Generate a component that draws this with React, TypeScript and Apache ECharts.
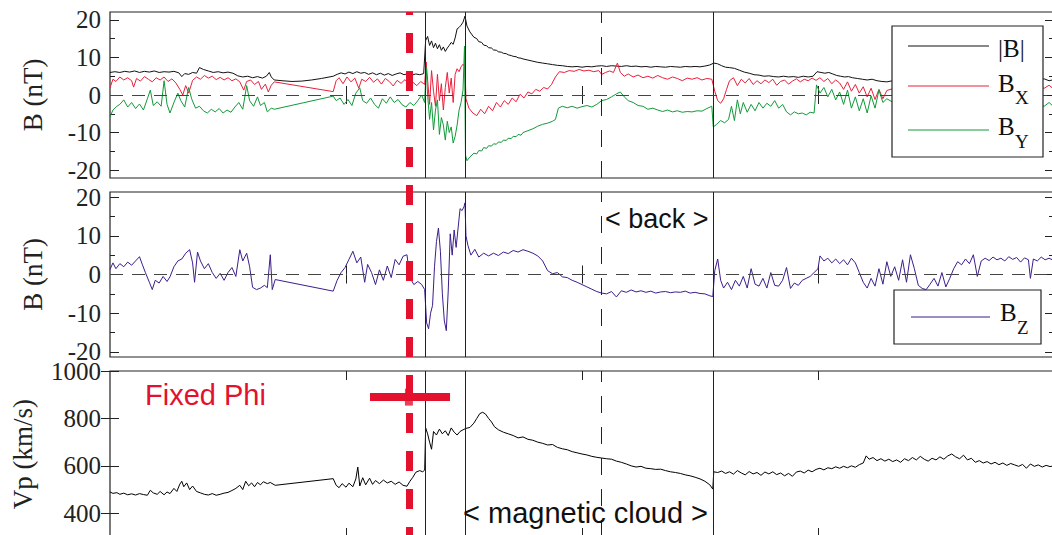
import React, { useEffect, useRef } from 'react';
import * as echarts from 'echarts';

// ---- axis ticks ----
const xTicks = [24, 48, 72];
const bTicks = [-20, -10, 0, 10, 20];
const bMinorTicks = [-15, -5, 5, 15];
const vpTicks = [400, 600, 800, 1000];

// ---- event times (hours) ----
const eventSolid = [32.07, 36.15, 61.3];
const eventDashed = [50.0];
const fixedPhiT = 30.4;
const fixedPhiRange = [26.44, 34.58];
const fixedPhiV = 890;

// ---- |B| (nT) ----
const bMag: number[][] = [
  [0,6.0],[0.5,6.2],[1,6.0],[1.5,6.3],[2,6.1],[2.5,6.4],[3,6.0],[3.5,6.3],[4,6.1],[4.5,6.4],[5,6.0],[5.5,6.2],[6,6.1],[6.5,6.3],[7,5.9],[7.3,4.9],[7.6,5.7],[8,5.5],[8.4,6.0],[8.8,5.8],[9.1,7.3],[9.5,6.8],[10,6.4],[10.5,6.0],[11,6.2],[11.5,5.9],[12,6.1],[12.5,5.8],[13,5.1],[13.5,4.8],[14,5.0],[14.5,4.6],[15,4.9],[15.5,4.5],[15.9,5.0],[16.2,6.0],[16.4,4.8],[16.7,4.0],
  [17.5,3.8],[18.5,3.6],[19.5,3.7],[20.5,4.0],[21.5,4.4],[22.7,5.0],
  [23.1,5.5],[23.5,5.9],[23.9,5.6],[24.3,6.1],[24.7,5.7],[25.1,6.2],[25.5,5.8],[25.9,6.0],[26.3,5.5],[26.7,5.9],[27.1,5.4],[27.5,5.8],[27.9,5.3],[28.3,5.7],[28.7,5.2],[29.1,5.6],[29.5,5.9],[29.9,5.4],[30.3,5.7],[30.7,5.3],[31.1,5.6],[31.5,5.4],[31.9,5.7],
  [32.1,14.5],[32.3,15.6],[32.5,13.2],[32.7,14.4],[32.9,12.6],[33.1,13.8],[33.3,12.3],[33.5,13.4],[33.7,11.9],[33.9,12.8],[34.1,11.6],[34.3,12.5],[34.5,13.2],[34.7,14.0],[34.9,13.5],[35.1,15.2],[35.3,17.6],[35.5,18.0],[35.7,18.6],[35.9,19.4],[36.1,21.0],
  [36.3,18.4],[36.6,16.8],[37.0,15.4],[37.3,15.0],[37.5,14.2],[37.8,14.0],[38.0,13.3],[38.3,13.1],[38.5,12.6],[38.8,12.5],[39.0,12.0],[39.3,11.9],[39.5,11.5],[39.8,11.4],[40.0,11.1],[40.3,11.0],[40.5,10.7],[40.8,10.5],[41.0,10.3],[41.3,10.2],[41.5,9.9],[41.8,9.8],[42.0,9.6],[42.5,9.3],[43.0,9.0],[43.5,8.7],[44.0,8.5],[44.5,8.3],[45.0,8.1],[45.5,7.9],[46.0,7.8],[46.5,7.6],[47.0,7.5],[47.5,7.6],[48.0,7.4],[48.5,7.6],[49.0,7.5],[49.5,7.7],[50.0,7.8],[50.5,7.6],[51.0,7.8],[51.5,7.7],[52.0,7.6],[52.5,7.8],[53.0,7.6],[53.5,7.7],[54.0,7.5],[54.5,7.6],[55.0,7.4],[55.5,7.6],[56.0,7.5],[56.5,7.4],[57.0,7.6],[57.5,7.5],[58.0,7.4],[58.5,7.6],[59.0,7.5],[59.5,7.6],[60.0,7.5],[60.5,7.7],[61.0,8.0],
  [61.4,8.5],[61.8,8.3],[62.2,7.8],[62.6,7.4],[63.0,7.3],[63.5,7.1],[64.0,6.6],[64.5,6.1],[65.0,5.8],[65.5,5.4],[66.0,5.3],[66.5,5.0],[67.0,5.1],[67.5,4.9],[68.0,4.8],[68.5,5.0],[69.0,4.8],[69.5,4.9],[70.0,4.7],[70.5,5.0],[71.0,4.8],[71.5,5.0],[71.9,6.2],[72.3,6.0],[72.7,5.8],[73.1,6.0],[73.5,5.6],[73.9,5.2],[74.3,5.0],[74.7,4.8],[75.1,4.9],[75.5,4.6],[76.0,4.4],[76.5,4.2],[77.0,4.0],[77.5,4.2],[78.0,3.8],[78.5,3.6],[79.0,3.5],
  [80,4.0],[82,4.1],[84,4.3],[86,4.1],[88,4.0],[90,4.2],[92,3.9],[94,4.0],[95,4.3],[95.5,3.8],[96,4.1]
];

// ---- Bx (nT) ----
const bX: number[][] = [
  [0,1.9],[0.3,4.2],[0.6,3.6],[1.0,4.8],[1.4,4.0],[1.8,4.6],[2.2,3.8],[2.4,2.1],[2.7,4.4],[3.1,3.7],[3.5,4.9],[3.9,4.2],[4.3,3.5],[4.7,4.6],[5.1,4.0],[5.5,4.8],[5.9,3.6],[6.3,4.3],[6.7,3.2],[7.1,1.5],[7.4,0.0],[7.7,2.5],[8.0,0.5],[8.4,3.9],[8.8,4.8],[9.2,4.2],[9.6,5.2],[10.0,4.5],[10.4,5.0],[10.8,4.1],[11.2,4.7],[11.6,4.0],[12.0,4.6],[12.4,3.8],[12.8,4.3],[13.2,3.5],[13.6,1.3],[13.9,3.6],[14.3,4.0],[14.7,2.8],[15.1,3.6],[15.4,1.5],[15.8,2.9],[16.1,0.8],[16.4,2.6],[16.7,3.5],
  [22.7,0.9],[23.0,3.8],[23.3,4.6],[23.7,3.0],[24.1,4.8],[24.5,3.5],[24.9,4.5],[25.3,1.8],[25.6,4.2],[26.0,3.6],[26.4,4.7],[26.8,3.4],[27.2,4.3],[27.6,2.9],[28.0,4.4],[28.4,3.6],[28.8,2.4],[29.2,3.9],[29.6,3.1],[30.0,4.1],[30.4,2.8],[30.8,3.4],[31.2,2.5],[31.6,3.6],[32.0,2.8],
  [32.15,8.8],[32.3,4.0],[32.5,-2.5],[32.7,6.5],[32.9,1.0],[33.1,-3.0],[33.3,5.5],[33.5,-1.5],[33.7,3.0],[33.9,-4.0],[34.1,2.0],[34.3,6.0],[34.5,0.5],[34.7,4.5],[34.9,-2.0],[35.1,5.5],[35.3,7.0],[35.5,6.2],[35.7,7.5],[35.9,8.2],[36.1,7.6],
  [36.2,-1.0],[36.5,-3.5],[36.9,-4.8],[37.3,-5.5],[37.7,-3.8],[38.1,-5.0],[38.5,-3.0],[38.9,-4.2],[39.3,-2.0],[39.7,-3.2],[40.1,-1.5],[40.5,-2.5],[40.9,-0.8],[41.3,-1.8],[41.7,0.2],[42.1,-0.8],[42.5,0.8],[42.9,0.3],[43.3,1.5],[43.7,1.0],[44.1,2.0],[44.5,1.6],[44.9,2.8],[45.3,4.8],[45.7,6.2],[46.2,6.0],[46.7,6.5],[47.2,6.3],[47.7,6.8],[48.2,6.4],[48.7,6.6],[49.2,6.2],[49.7,6.5],[50.0,5.5],[50.4,6.0],[50.8,6.4],[51.2,6.0],[51.6,8.5],[51.9,6.0],[52.3,5.0],[52.7,5.6],[53.2,4.8],[53.7,5.3],[54.2,4.6],[54.7,5.0],[55.2,4.5],[55.7,5.2],[56.2,4.6],[56.7,4.2],[57.2,4.8],[57.7,4.4],[58.2,3.8],[58.7,4.5],[59.2,4.2],[59.7,4.6],[60.2,4.0],[60.7,4.4],[61.2,4.2],
  [61.5,1.0],[61.8,-1.5],[62.1,-2.2],[62.4,-1.0],[62.7,1.5],[63.0,3.8],[63.4,4.6],[63.8,2.5],[64.2,4.2],[64.6,3.2],[65.0,4.4],[65.4,2.8],[65.8,3.8],[66.2,3.0],[66.6,4.0],[67.0,3.3],[67.4,4.2],[67.8,2.6],[68.2,3.6],[68.6,4.0],[69.0,2.9],[69.4,3.7],[69.8,4.3],[70.2,3.5],[70.6,4.2],[71.0,3.8],[71.4,4.5],[71.8,3.9],[72.2,4.6],[72.6,3.6],[73.0,4.4],[73.4,3.0],[73.8,4.0],[74.2,3.2],[74.6,1.5],[75.0,3.5],[75.4,1.0],[75.8,2.8],[76.2,0.5],[76.6,2.2],[77.0,-0.5],[77.4,1.8],[77.8,-1.2],[78.2,1.5],[78.6,-1.0],[79.0,1.2],
  [80,2.0],[82,2.5],[84,1.8],[86,2.4],[88,2.0],[90,2.6],[92,2.2],[94,2.0],[95,1.8],[95.5,2.6],[96,1.5]
];

// ---- By (nT) ----
const bY: number[][] = [
  [0,-5.8],[0.3,-4.0],[0.7,-3.0],[1.0,-2.5],[1.4,-1.3],[1.8,-3.2],[2.2,-2.0],[2.6,-3.6],[3.0,-2.4],[3.4,-4.0],[3.8,-1.0],[4.1,1.3],[4.4,-2.8],[4.8,-1.8],[5.2,-3.0],[5.5,3.8],[5.8,-2.5],[6.1,-4.8],[6.5,-2.0],[6.9,0.5],[7.2,-1.5],[7.6,-3.2],[8.0,2.0],[8.3,-1.0],[8.7,-3.5],[9.1,-3.0],[9.5,-4.2],[9.9,-4.8],[10.3,-3.8],[10.7,-4.5],[11.1,-3.6],[11.5,-4.8],[11.9,-4.0],[12.3,-4.6],[12.7,-3.2],[13.1,-2.0],[13.5,-3.8],[13.9,2.5],[14.2,-1.5],[14.6,-3.0],[15.0,-0.5],[15.3,-2.8],[15.7,-2.0],[16.0,-4.5],[16.4,-3.5],[16.7,-3.8],
  [22.7,-0.3],[23.0,-1.5],[23.4,-0.8],[23.8,-2.5],[24.2,-1.2],[24.6,-2.8],[25.0,0.5],[25.4,1.9],[25.7,-1.5],[26.1,-2.2],[26.5,-0.8],[26.9,-2.5],[27.3,-3.5],[27.7,-1.0],[28.1,-2.2],[28.5,-0.5],[28.9,-2.0],[29.3,-1.2],[29.7,-2.6],[30.1,-3.2],[30.5,-2.0],[30.9,-2.8],[31.3,-1.5],[31.7,0.0],[32.0,-2.0],
  [32.15,7.5],[32.3,0.0],[32.5,-6.5],[32.7,-2.0],[32.9,-9.3],[33.1,-4.0],[33.3,-1.3],[33.5,-10.5],[33.7,-6.0],[33.9,-8.0],[34.1,-12.0],[34.3,-7.0],[34.5,-10.0],[34.7,-8.5],[34.9,-12.8],[35.1,-11.0],[35.3,-8.0],[35.5,-4.0],[35.7,-2.0],[35.9,1.3],[36.05,13.0],
  [36.15,-16.0],[36.3,-17.5],[36.6,-16.5],[37.0,-15.5],[37.3,-15.7],[37.5,-14.8],[37.8,-14.9],[38.0,-14.0],[38.3,-14.2],[38.5,-13.5],[38.8,-13.6],[39.0,-13.0],[39.3,-13.1],[39.5,-12.5],[39.8,-12.6],[40.0,-12.0],[40.3,-12.1],[40.5,-11.5],[40.8,-11.6],[41.0,-11.0],[41.3,-11.1],[41.5,-10.5],[41.8,-10.7],[42.0,-10.0],[42.5,-9.5],[43.0,-9.0],[43.5,-8.3],[44.0,-7.8],[44.5,-7.5],[45.0,-7.0],[45.3,-6.5],[45.6,-3.5],[46.0,-3.0],[46.5,-3.4],[47.0,-3.0],[47.5,-3.5],[48.0,-3.1],[48.5,-2.8],[49.0,-3.2],[49.5,-2.5],[50.0,-1.5],[50.5,-1.2],[51.0,-0.5],[51.5,0.3],[51.9,0.8],[52.3,-0.5],[52.7,-1.5],[53.2,-2.0],[53.7,-2.8],[54.2,-3.0],[54.7,-3.8],[55.2,-3.5],[55.7,-4.0],[56.2,-4.4],[56.7,-4.0],[57.2,-4.5],[57.7,-4.2],[58.2,-4.6],[58.7,-4.4],[59.2,-4.5],[59.7,-4.2],[60.2,-4.3],[60.7,-3.6],[61.2,-3.0],
  [61.35,-8.5],[61.7,-7.8],[62.1,-6.8],[62.5,-7.4],[62.9,-6.5],[63.2,-3.0],[63.5,-6.8],[63.8,-1.3],[64.1,-5.0],[64.4,-2.0],[64.8,-4.6],[65.2,-2.5],[65.6,-4.2],[66.0,-2.0],[66.4,-3.5],[66.8,-2.2],[67.2,-3.0],[67.6,-1.5],[68.0,-3.5],[68.4,-2.5],[68.8,-4.5],[69.2,-5.3],[69.6,-4.5],[70.0,-5.0],[70.4,-4.8],[70.8,-5.3],[71.2,-4.6],[71.6,-4.8],[71.85,2.7],[72.2,0.5],[72.6,2.0],[73.0,-0.5],[73.4,1.5],[73.8,-1.3],[74.2,0.8],[74.6,-2.5],[75.0,1.3],[75.4,-3.5],[75.8,-0.5],[76.2,-4.2],[76.6,-1.0],[77.0,-4.8],[77.4,-0.2],[77.8,-3.5],[78.2,1.3],[78.6,-2.0],[79.0,-1.0],
  [80,-2.5],[82,-2.0],[84,-3.0],[86,-2.2],[88,-2.8],[90,-2.0],[92,-2.6],[94,-2.2],[95,-3.0],[95.5,-2.0],[96,-3.2]
];

// ---- Bz (nT) ----
const bZ: number[][] = [
  [0,1.3],[0.3,3.0],[0.6,1.5],[1.0,2.8],[1.4,2.0],[1.8,3.2],[2.2,2.4],[2.6,3.5],[3.0,4.6],[3.3,2.5],[3.6,0.5],[4.0,-2.0],[4.3,-3.9],[4.6,-1.5],[5.0,-2.2],[5.4,-0.5],[5.8,-1.8],[6.1,-0.6],[6.5,2.0],[6.9,3.5],[7.3,4.0],[7.7,5.5],[8.1,6.4],[8.4,3.0],[8.6,-2.0],[8.9,5.8],[9.2,3.5],[9.6,1.5],[10.0,2.8],[10.4,0.5],[10.8,-1.0],[11.2,0.3],[11.6,-1.5],[12.0,0.5],[12.4,1.8],[12.8,-0.5],[13.2,6.4],[13.5,3.5],[13.9,5.5],[14.2,2.0],[14.5,-3.3],[14.9,-3.9],[15.3,-3.5],[15.7,-2.8],[16.0,-3.4],[16.3,5.1],[16.5,-3.9],[16.8,-1.3],
  [22.7,-4.3],[23.1,-1.5],[23.5,0.5],[23.9,1.8],[24.3,3.9],[24.7,6.0],[25.1,3.0],[25.5,4.5],[25.9,-2.0],[26.2,2.6],[26.6,0.5],[27.0,-2.6],[27.4,1.2],[27.8,-1.5],[28.2,2.2],[28.6,-0.8],[29.0,3.9],[29.4,2.5],[29.8,4.7],[30.2,5.1],[30.5,-0.8],[30.9,-2.6],[31.3,-1.8],[31.7,-2.6],[32.0,-3.9],
  [32.2,-12.5],[32.4,-14.0],[32.6,-10.0],[32.8,-8.0],[33.0,2.0],[33.2,8.5],[33.4,12.0],[33.6,6.0],[33.8,-5.0],[34.0,-12.0],[34.2,-14.5],[34.4,-4.0],[34.6,10.5],[34.8,5.0],[35.0,11.5],[35.2,7.0],[35.4,12.0],[35.6,17.0],[35.8,16.5],[36.0,17.5],[36.1,18.5],
  [36.2,10.0],[36.4,7.5],[36.7,5.0],[37.1,6.5],[37.5,4.5],[38.0,5.5],[38.5,4.8],[39.0,5.5],[39.5,4.9],[40.0,5.8],[40.5,5.4],[41.0,6.2],[41.5,5.8],[42.0,6.4],[42.5,6.0],[43.0,5.5],[43.5,4.8],[44.0,3.5],[44.5,1.0],[45.0,0.2],[45.5,0.5],[46.0,-0.6],[46.5,-0.8],[47.0,-1.5],[47.5,-2.0],[48.0,-2.6],[48.5,-3.2],[49.0,-3.8],[49.5,-4.4],[50.0,-4.8],[50.5,-5.0],[51.0,-4.4],[51.5,-5.8],[52.0,-4.2],[52.5,-4.6],[53.0,-4.0],[53.5,-4.5],[54.0,-4.2],[54.5,-4.6],[55.0,-4.3],[55.5,-4.8],[56.0,-4.5],[56.5,-4.4],[57.0,-4.7],[57.5,-4.5],[58.0,-4.6],[58.5,-4.3],[59.0,-4.8],[59.5,-4.6],[60.0,-4.9],[60.5,-5.0],[61.0,-5.5],[61.3,-5.7],
  [61.5,1.0],[61.8,4.0],[62.1,-1.5],[62.4,-3.5],[62.8,-2.0],[63.2,-3.9],[63.6,-1.5],[64.0,-3.0],[64.4,-0.5],[64.8,-3.5],[65.2,1.5],[65.6,-2.5],[66.0,-3.0],[66.4,-1.0],[66.8,-3.5],[67.2,0.5],[67.6,-2.8],[68.0,-3.0],[68.4,-1.5],[68.8,1.8],[69.2,-3.6],[69.6,-2.2],[70.0,-2.8],[70.4,-1.5],[70.8,-1.0],[71.2,-0.5],[71.6,0.5],[72.0,1.5],[72.2,4.8],[72.6,3.5],[73.0,4.2],[73.4,3.0],[73.8,4.0],[74.2,2.8],[74.6,3.8],[75.0,2.5],[75.4,4.2],[75.8,3.0],[76.2,0.5],[76.6,-2.0],[77.0,-3.5],[77.4,-1.0],[77.8,-3.0],[78.2,1.5],[78.6,-2.5],[79.0,3.3],[79.4,-0.5],[79.8,2.0],[80.2,-1.5],[80.6,3.8],[81.0,-2.0],[81.4,5.1],[81.8,1.5],[82.2,-2.8],[82.6,-3.6],[83.0,-3.9],[83.4,-2.5],[83.8,-1.0],[84.2,-3.0],[84.6,0.5],[85.0,-3.2],[85.4,-1.0],[85.8,1.5],[86.2,3.3],[86.6,2.5],[87.0,4.0],[87.4,2.8],[87.8,5.1],[88.2,-0.5],[88.6,3.5],[89.0,4.2],[89.4,3.6],[89.8,4.5],[90.2,3.8],[90.6,4.2],[91.0,3.5],[91.4,4.6],[91.8,3.9],[92.2,4.4],[92.6,3.2],[93.0,4.3],[93.4,3.8],[93.6,-1.0],[93.9,4.0],[94.3,3.5],[94.7,4.5],[95.1,3.8],[95.5,4.2],[96,3.6]
];

// ---- Vp (km/s) ----
const vp: number[][] = [
  [0,490],[0.3,484],[0.7,487],[1.0,480],[1.4,485],[1.8,478],[2.2,482],[2.6,477],[3.0,483],[3.4,479],[3.8,476],[4.1,497],[4.4,486],[4.8,480],[5.1,492],[5.5,478],[5.8,490],[6.1,483],[6.5,505],[6.8,492],[7.1,523],[7.3,535],[7.5,512],[7.8,528],[8.1,500],[8.4,515],[8.8,492],[9.2,486],[9.6,480],[10.0,477],[10.4,483],[10.8,476],[11.2,480],[11.6,485],[12.0,488],[12.4,496],[12.8,505],[13.2,518],[13.5,500],[13.8,535],[14.1,516],[14.4,528],[14.7,512],[15.0,530],[15.3,520],[15.6,533],[16.0,525],[16.3,530],[16.8,518],
  [22.7,546],[23.0,518],[23.3,508],[23.6,525],[24.0,510],[24.3,527],[24.7,512],[25.0,545],[25.2,595],[25.4,515],[25.7,550],[26.0,520],[26.4,548],[26.7,522],[27.0,538],[27.4,525],[27.8,540],[28.2,528],[28.6,535],[29.0,522],[29.4,532],[29.8,518],[30.2,514],[30.5,535],[30.8,552],[31.1,573],[31.5,580],[31.8,575],[32.0,582],
  [32.1,760],[32.3,735],[32.5,700],[32.7,670],[32.9,745],[33.2,730],[33.5,755],[33.8,735],[34.1,748],[34.4,728],[34.7,760],[35.0,742],[35.3,730],[35.6,745],[35.9,752],[36.2,758],[36.6,762],[37.0,780],[37.3,800],[37.6,820],[37.9,826],[38.2,818],[38.5,800],[38.8,785],[39.1,765],[39.5,752],[40.0,742],[40.5,735],[41.0,728],[41.5,718],[42.0,722],[42.5,712],[43.0,708],[43.5,700],[44.0,695],[44.5,688],[45.0,690],[45.5,678],[46.0,672],[46.5,668],[47.0,660],[47.5,655],[48.0,650],[48.5,646],[49.0,640],[49.5,636],[50.0,633],[50.5,630],[51.0,628],[51.5,620],[52.0,615],[52.5,608],[53.0,600],[53.5,595],[54.0,598],[54.5,590],[55.0,588],[55.5,585],[56.0,586],[56.5,580],[57.0,575],[57.5,572],[58.0,568],[58.5,562],[59.0,558],[59.5,552],[60.0,545],[60.5,535],[61.0,520],[61.3,502],
  [61.4,575],[61.8,572],[62.2,578],[62.6,568],[63.0,575],[63.4,565],[63.8,580],[64.2,570],[64.6,562],[65.0,576],[65.4,566],[65.8,572],[66.2,560],[66.6,574],[67.0,566],[67.4,575],[67.8,563],[68.2,570],[68.6,558],[69.0,568],[69.4,556],[69.8,574],[70.2,578],[70.6,570],[71.0,582],[71.4,575],[71.8,585],[72.2,590],[72.6,583],[73.0,592],[73.4,588],[73.8,596],[74.2,590],[74.6,598],[75.0,592],[75.4,600],[75.8,594],[76.2,605],[76.6,612],[76.9,642],[77.2,628],[77.6,635],[78.0,622],[78.4,630],[78.8,620],[79.2,628],[79.6,618],[80.0,625],[80.4,615],[80.8,630],[81.2,622],[81.6,635],[82.0,625],[82.4,640],[82.8,628],[83.2,620],[83.6,632],[84.0,625],[84.4,638],[84.8,628],[85.2,642],[85.6,650],[86.0,638],[86.4,630],[86.8,645],[87.2,625],[87.6,632],[88.0,615],[88.4,622],[88.8,612],[89.2,618],[89.6,608],[90.0,615],[90.4,605],[90.8,612],[91.2,602],[91.6,610],[92.0,604],[92.4,598],[92.8,606],[93.2,590],[93.6,608],[94.0,598],[94.4,604],[94.8,595],[95.2,602],[95.6,597],[96,600]
];

const SERIF = '"Liberation Serif", "DejaVu Serif", "Times New Roman", serif';
const SANS = '"Liberation Sans", Arial, Helvetica, sans-serif';
const RED = '#e3102e';
const COL_B = '#111111';
const COL_X = '#e8203a';
const COL_Y = '#12993a';
const COL_Z = '#3d1d8c';
const AX = '#222222';

const gridRects = [
  { left: 110, top: 12, width: 944, height: 166 },
  { left: 110, top: 192, width: 944, height: 165 },
  { left: 110, top: 371, width: 944, height: 166 },
];

function xAxisDef(gridIndex: number, position: string) {
  return {
    type: 'value', gridIndex, position, min: 0, max: 96,
    axisLine: { show: false }, splitLine: { show: false }, axisLabel: { show: false },
    axisTick: { show: true, inside: true, length: 9, customValues: xTicks, lineStyle: { color: AX, width: 1 } },
  };
}

function yAxisDef(gridIndex: number, position: string, min: number, max: number, ticks: number[], len: number, labels: boolean, name?: string, nameGap?: number) {
  return {
    type: 'value', gridIndex, position, min, max,
    name: name || '', nameLocation: 'middle', nameGap: nameGap || 0, nameRotate: 90,
    nameTextStyle: { fontFamily: SERIF, fontSize: 27, color: AX },
    axisLine: { show: false }, splitLine: { show: false },
    axisTick: { show: true, inside: true, length: len, customValues: ticks, lineStyle: { color: AX, width: 1 } },
    axisLabel: labels
      ? { show: true, customValues: ticks, fontFamily: SERIF, fontSize: 25, color: AX, margin: 9, formatter: (v: number) => String(v) }
      : { show: false },
  };
}

function eventMarks(withZero: boolean) {
  const data: any[] = [
    ...eventSolid.map((t) => ({ xAxis: t, lineStyle: { color: AX, width: 1, type: 'solid' } })),
    ...eventDashed.map((t) => ({ xAxis: t, lineStyle: { color: AX, width: 1, type: [17, 14] } })),
  ];
  if (withZero) data.push({ yAxis: 0, lineStyle: { color: '#444', width: 1, type: [13, 9] } });
  return { silent: true, symbol: ['none', 'none'], label: { show: false }, emphasis: { disabled: true }, data };
}

function lineSeries(name: string, data: number[][], color: string, xi: number, yi: number, extra: any = {}) {
  return {
    name, type: 'line', data, xAxisIndex: xi, yAxisIndex: yi,
    showSymbol: false, symbol: 'none', lineStyle: { color, width: 1 }, itemStyle: { color },
    emphasis: { disabled: true }, silent: true, ...extra,
  };
}

export default function App() {
  const ref = useRef<HTMLDivElement>(null);
  useEffect(() => {
    if (!ref.current) return;
    const chart = echarts.init(ref.current, null, { renderer: 'svg' });
    const option: any = {
      animation: false,
      backgroundColor: '#ffffff',
      grid: [
        ...gridRects.map((g) => ({ ...g, show: true, borderColor: AX, borderWidth: 1.2, backgroundColor: 'transparent' })),
        { left: 110, top: 12, width: 944, height: 533, show: false },
      ],
      xAxis: [
        xAxisDef(0, 'bottom'), xAxisDef(0, 'top'),
        xAxisDef(1, 'bottom'), xAxisDef(1, 'top'),
        xAxisDef(2, 'bottom'), xAxisDef(2, 'top'),
        { type: 'value', gridIndex: 3, min: 0, max: 96, show: false },
      ],
      yAxis: [
        yAxisDef(0, 'left', -22.1, 22.1, bTicks, 9, true, 'B (nT)', 64),
        yAxisDef(0, 'left', -22.1, 22.1, bMinorTicks, 5, false),
        yAxisDef(0, 'right', -22.1, 22.1, bTicks, 9, false),
        yAxisDef(0, 'right', -22.1, 22.1, bMinorTicks, 5, false),
        yAxisDef(1, 'left', -21.3, 21.3, bTicks, 9, true, 'B (nT)', 64),
        yAxisDef(1, 'left', -21.3, 21.3, bMinorTicks, 5, false),
        yAxisDef(1, 'right', -21.3, 21.3, bTicks, 9, false),
        yAxisDef(1, 'right', -21.3, 21.3, bMinorTicks, 5, false),
        yAxisDef(2, 'left', 300, 1000, vpTicks, 9, true, 'Vp (km/s)', 74),
        yAxisDef(2, 'right', 300, 1000, vpTicks, 9, false),
        { type: 'value', gridIndex: 3, min: 0, max: 1, inverse: true, show: false },
      ],
      series: [
        lineSeries('|B|', bMag, COL_B, 0, 0, { markLine: eventMarks(true) }),
        lineSeries('BX', bX, COL_X, 0, 0),
        lineSeries('BY', bY, COL_Y, 0, 0),
        lineSeries('BZ', bZ, COL_Z, 2, 4, { markLine: eventMarks(true) }),
        lineSeries('Vp', vp, '#000000', 4, 8, { markLine: eventMarks(false) }),
        lineSeries('Fixed Phi range', [[fixedPhiRange[0], fixedPhiV], [fixedPhiRange[1], fixedPhiV]], RED, 4, 8, {
          lineStyle: { color: RED, width: 8 }, z: 6,
        }),
        {
          name: 'Fixed Phi centre', type: 'scatter', xAxisIndex: 4, yAxisIndex: 8,
          data: [[fixedPhiT, fixedPhiV]], symbol: 'rect', symbolSize: [8, 17],
          itemStyle: { color: RED }, silent: true, z: 6,
        },
        {
          name: 'Fixed Phi time', type: 'line', xAxisIndex: 6, yAxisIndex: 10,
          data: [[fixedPhiT, 0.5]], symbol: 'none', showSymbol: false,
          lineStyle: { opacity: 0 }, silent: true, z: 10,
          markLine: {
            silent: true, symbol: ['none', 'none'], label: { show: false },
            data: [{ xAxis: fixedPhiT }],
            lineStyle: { color: RED, width: 7, type: [20, 18], dashOffset: 17 },
          },
        },
      ],
      graphic: [
        // legend panel 1
        { type: 'rect', z: 100, shape: { x: 892, y: 26, width: 151, height: 131 }, style: { fill: '#fff', stroke: AX, lineWidth: 1.2 } },
        { type: 'line', z: 101, shape: { x1: 908, y1: 46, x2: 989, y2: 46 }, style: { stroke: COL_B, lineWidth: 1 } },
        { type: 'text', z: 101, x: 998, y: 48, style: { text: '|B|', fill: '#111', font: `25px ${SERIF}`, verticalAlign: 'middle' } },
        { type: 'line', z: 101, shape: { x1: 908, y1: 86, x2: 989, y2: 86 }, style: { stroke: COL_X, lineWidth: 1 } },
        { type: 'text', z: 101, x: 998, y: 83.3, style: { text: 'B', fill: '#111', font: `25px ${SERIF}`, verticalAlign: 'middle' } },
        { type: 'text', z: 101, x: 1015, y: 97, style: { text: 'X', fill: '#111', font: `19px ${SERIF}`, verticalAlign: 'middle' } },
        { type: 'line', z: 101, shape: { x1: 908, y1: 130, x2: 989, y2: 130 }, style: { stroke: COL_Y, lineWidth: 1 } },
        { type: 'text', z: 101, x: 998, y: 126.6, style: { text: 'B', fill: '#111', font: `25px ${SERIF}`, verticalAlign: 'middle' } },
        { type: 'text', z: 101, x: 1015, y: 141.5, style: { text: 'Y', fill: '#111', font: `19px ${SERIF}`, verticalAlign: 'middle' } },
        // legend panel 2
        { type: 'rect', z: 100, shape: { x: 894, y: 290, width: 147, height: 54 }, style: { fill: '#fff', stroke: AX, lineWidth: 1.2 } },
        { type: 'line', z: 101, shape: { x1: 911, y1: 317, x2: 990, y2: 317 }, style: { stroke: COL_Z, lineWidth: 1 } },
        { type: 'text', z: 101, x: 1000, y: 312, style: { text: 'B', fill: '#111', font: `25px ${SERIF}`, verticalAlign: 'middle' } },
        { type: 'text', z: 101, x: 1017, y: 327, style: { text: 'Z', fill: '#111', font: `19px ${SERIF}`, verticalAlign: 'middle' } },
        // annotations
        { type: 'text', z: 101, x: 145, y: 395, style: { text: 'Fixed Phi', fill: RED, font: `29px ${SANS}`, verticalAlign: 'middle' } },
        { type: 'text', z: 101, x: 605, y: 219, style: { text: '< back >', fill: '#111', font: `27px ${SANS}`, verticalAlign: 'middle' } },
        { type: 'text', z: 101, x: 463, y: 513, style: { text: '< magnetic cloud >', fill: '#111', font: `29px ${SANS}`, verticalAlign: 'middle' } },
      ],
    };
    chart.setOption(option);
    return () => chart.dispose();
  }, []);
  return (
    <div style={{ position: 'fixed', left: 0, top: 0, width: 1052, height: 535, overflow: 'hidden', background: '#fff' }}>
      <div ref={ref} style={{ width: 1062, height: 548 }} />
    </div>
  );
}
